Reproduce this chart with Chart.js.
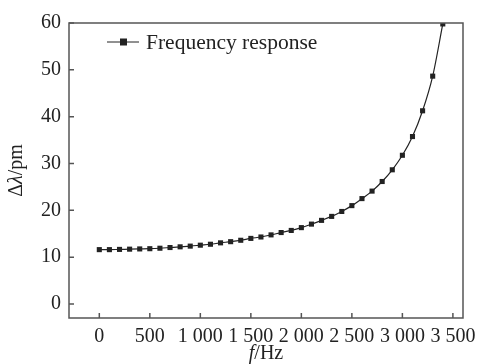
<!DOCTYPE html>
<html>
<head>
<meta charset="utf-8">
<script src="https://cdn.jsdelivr.net/npm/chart.js@4/dist/chart.umd.min.js"></script>
<style>
  html, body { margin: 0; padding: 0; background: #fff; }
  #wrap { width: 484px; height: 364px; }
</style>
</head>
<body>
<div id="wrap"><canvas id="myChart" width="484" height="364"></canvas></div>
<script>
"use strict";

// values
var freqs = [0, 100, 200, 300, 400, 500, 600, 700, 800, 900,
  1000, 1100, 1200, 1300, 1400, 1500, 1600, 1700, 1800, 1900,
  2000, 2100, 2200, 2300, 2400, 2500, 2600, 2700, 2800, 2900,
  3000, 3100, 3200, 3300, 3400];
var deltas = [11.6, 11.6, 11.65, 11.7, 11.75, 11.8, 11.9, 12.05, 12.2, 12.35,
  12.55, 12.75, 13.05, 13.3, 13.6, 14.0, 14.3, 14.75, 15.25, 15.7,
  16.3, 17.05, 17.85, 18.7, 19.75, 21.0, 22.5, 24.1, 26.15, 28.65,
  31.75, 35.75, 41.25, 48.65, 59.8];
var seriesName = "Frequency response";
var xTicks = [0, 500, 1000, 1500, 2000, 2500, 3000, 3500];
var yTicks = [0, 10, 20, 30, 40, 50, 60];

var serif = "'Liberation Serif', 'Times New Roman', serif";
var ink = "#222";

function fmtThousands(v) {
  if (v >= 1000) {
    return Math.floor(v / 1000) + " " + String(v % 1000).padStart(3, "0");
  }
  return String(v);
}

// draws pieces of text one after another, some in italic
function drawRuns(ctx, runs, x, y, size) {
  var total = 0;
  runs.forEach(function (r) {
    ctx.font = (r[1] ? "italic " : "") + size + "px " + serif;
    total += ctx.measureText(r[0]).width;
  });
  var cx = x - total / 2;
  runs.forEach(function (r) {
    ctx.font = (r[1] ? "italic " : "") + size + "px " + serif;
    ctx.fillText(r[0], cx, y);
    cx += ctx.measureText(r[0]).width;
  });
}

// box around the plot, inward ticks, axis titles and the legend
var framePlugin = {
  id: "frame",
  afterDraw: function (chart) {
    var ctx = chart.ctx;
    var a = chart.chartArea;
    var xs = chart.scales.x;
    var ys = chart.scales.y;
    ctx.save();
    ctx.strokeStyle = "#555";
    ctx.lineWidth = 1.5;
    ctx.strokeRect(a.left, a.top, a.right - a.left, a.bottom - a.top);
    ctx.beginPath();
    xTicks.forEach(function (t) {
      var px = xs.getPixelForValue(t);
      ctx.moveTo(px, a.bottom);
      ctx.lineTo(px, a.bottom - 5);
    });
    yTicks.forEach(function (t) {
      var py = ys.getPixelForValue(t);
      ctx.moveTo(a.left, py);
      ctx.lineTo(a.left + 5, py);
    });
    ctx.stroke();

    // axis titles
    ctx.fillStyle = ink;
    ctx.textBaseline = "middle";
    ctx.textAlign = "left";
    drawRuns(ctx, [["f", true], ["/Hz", false]], (a.left + a.right) / 2, 354, 20);
    ctx.save();
    ctx.translate(17, (a.top + a.bottom) / 2);
    ctx.rotate(-Math.PI / 2);
    drawRuns(ctx, [["Δ", false], ["λ", true], ["/pm", false]], 0, 0, 20);
    ctx.restore();

    // legend
    var lx = a.left + 38;
    var ly = a.top + 19;
    ctx.strokeStyle = ink;
    ctx.lineWidth = 1;
    ctx.beginPath();
    ctx.moveTo(lx, ly);
    ctx.lineTo(lx + 32, ly);
    ctx.stroke();
    ctx.fillRect(lx + 13, ly - 3.5, 7, 7);
    ctx.font = "21.5px " + serif;
    ctx.fillText(seriesName, lx + 39, ly + 1);
    ctx.restore();
  }
};

var points = freqs.map(function (f, i) {
  return { x: f, y: deltas[i] };
});

function fixedTicks(list) {
  return function (s) {
    s.ticks = list.map(function (v) { return { value: v }; });
  };
}

function draw() {
  new Chart(document.getElementById("myChart"), {
    type: "line",
    data: {
      datasets: [
        {
          label: seriesName,
          data: points,
          borderColor: ink,
          borderWidth: 1.2,
          backgroundColor: ink,
          pointStyle: "rect",
          pointRadius: 3.6,
          pointBorderWidth: 0,
          pointBackgroundColor: ink,
          cubicInterpolationMode: "monotone",
        },
      ],
    },
    options: {
      responsive: false,
      animation: false,
      layout: { padding: { top: 23, right: 21, left: 0, bottom: 0 } },
      plugins: {
        legend: { display: false },
        tooltip: { enabled: false },
      },
      scales: {
        x: {
          type: "linear",
          min: -300,
          max: 3600,
          afterBuildTicks: fixedTicks(xTicks),
          afterFit: function (s) { s.height = 46; },
          grid: { display: false, drawTicks: false },
          border: { display: false },
          ticks: {
            padding: 7,
            color: ink,
            maxRotation: 0,
            autoSkip: false,
            font: { family: serif, size: 20 },
            callback: function (v) { return fmtThousands(v); },
          },
        },
        y: {
          min: -3,
          max: 60,
          afterBuildTicks: fixedTicks(yTicks),
          afterFit: function (s) { s.width = 69; },
          grid: { display: false, drawTicks: false },
          border: { display: false },
          ticks: {
            padding: 8,
            color: ink,
            font: { family: serif, size: 20 },
          },
        },
      },
    },
    plugins: [framePlugin],
  });
}

document.addEventListener("DOMContentLoaded", draw);
</script>
</body>
</html>
